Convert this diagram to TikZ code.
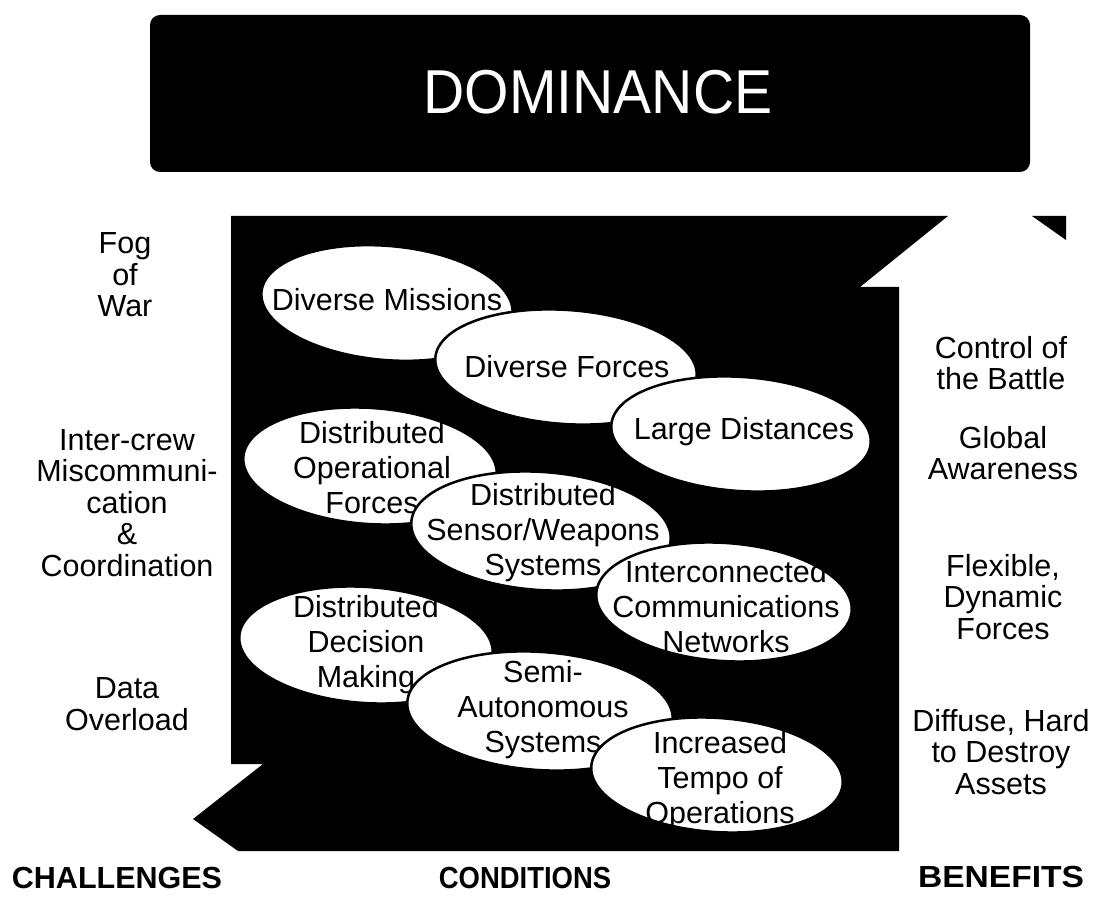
\documentclass[tikz,border=0pt]{standalone}
\usepackage{fontspec}
\setmainfont{Liberation Sans}
\begin{document}
\begin{tikzpicture}[x=1pt,y=-1pt,
  side/.style={align=center,font=\fontsize{30.5}{31.5}\selectfont,inner sep=0pt},
  head/.style={font=\fontsize{30.5}{31}\selectfont\bfseries,inner sep=0pt},
  etext/.style={align=center,font=\fontsize{30.5}{35}\selectfont,inner sep=0pt},
  eline/.style={draw=black,line width=2.5pt}]
\useasboundingbox (0,0) rectangle (1095,901);
\fill[white] (0,0) rectangle (1095,901);
% title bar
\fill[black,rounded corners=10pt] (150,15) rectangle (1030,172);
\node[text=white,font=\fontsize{62}{66}\selectfont,inner sep=0pt,xscale=0.92] (dom) at (598,92) {DOMINANCE};
% big black field with arrow cut-outs
\fill[black] (231,216) -- (948,216) -- (860,287) -- (899,287) -- (899,851)
  -- (238,851) -- (193,819) -- (263,764) -- (231,764) -- cycle;
\fill[black] (1032,216) -- (1066,216) -- (1066,240) -- cycle;
% ellipses with clipped text
\newcommand{\ellbox}[6]{%
  \fill[white,eline,rotate around={#4:(#1,#2)}] (#1,#2) ellipse [x radius=#3, y radius=#5];
  \begin{scope}
  \clip[rotate around={#4:(#1,#2)}] (#1,#2) ellipse [x radius=#3-1, y radius=#5-1];
  #6
  \end{scope}}
\ellbox{387}{303}{126}{-5}{57}{\node[etext] (t1) at (387,300) {Diverse Missions};}
\ellbox{566}{367}{131}{-4}{57}{\node[etext] (t2) at (567,367) {Diverse Forces};}
\ellbox{741}{434}{130}{-4}{57}{\node[etext] (t3) at (744,432) {Large Distances};}
\ellbox{370}{466}{127}{-4}{58}{\node[etext] (t4) at (372,468) {Distributed\\Operational\\Forces};}
\ellbox{541}{531}{130}{-4}{59}{\node[etext] (t5) at (543,533) {Distributed\\Sensor/Weapons\\Systems};}
\ellbox{724}{602}{128}{-4}{59}{\node[etext] (t6) at (726,607) {Interconnected\\Communications\\Networks};}
\ellbox{366}{645}{127}{-4}{58}{\node[etext] (t7) at (366,645) {Distributed\\Decision\\Making};}
\ellbox{540}{711}{133}{-4}{59}{\node[etext] (t8) at (543,710) {Semi-\\Autonomous\\Systems};}
\ellbox{717}{775}{126}{-4}{57}{\node[etext] (t9) at (720,781) {Increased\\Tempo of\\Operations};}
% side texts
\node[side] (c1) at (125,275) {Fog\\of\\War};
\node[side] (c2) at (127,503) {Inter-crew\\Miscommuni-\\cation\\\&\\Coordination};
\node[side] (c3) at (127,704) {Data\\Overload};
\node[side] (b1) at (1001,363) {Control of\\the Battle};
\node[side] (b2) at (1003,453) {Global\\Awareness};
\node[side] (b3) at (1003,597) {Flexible,\\Dynamic\\Forces};
\node[side] (b4) at (1001,752) {Diffuse, Hard\\to Destroy\\Assets};
% column heads
\node[head] (h1) at (117,878) {CHALLENGES};
\node[head,xscale=0.9] (h2) at (525,878) {CONDITIONS};
\node[head,xscale=1.1] (h3) at (1001,877) {BENEFITS};
\end{tikzpicture}
\end{document}
